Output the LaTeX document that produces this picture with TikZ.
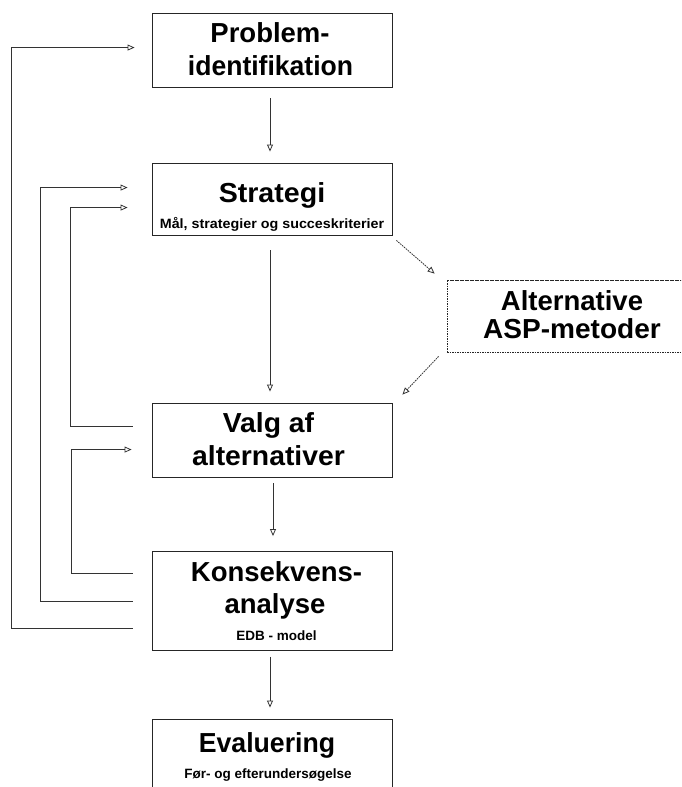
\documentclass[tikz,border=0pt]{standalone}
\usepackage{fontspec}
\usepackage{graphicx}
\setmainfont{Liberation Sans}
\usetikzlibrary{arrows.meta,calc}
\begin{document}
\begin{tikzpicture}[x=1pt,y=-1pt,
  box/.style={draw=black!85,line width=0.9pt,rectangle,inner sep=0pt},
  dbox/.style={draw=black!85,line width=0.8pt,rectangle,inner sep=0pt,dash pattern=on 1.6pt off 0.9pt},
  ttl/.style={font=\fontsize{27.5}{33}\selectfont\bfseries,inner sep=0pt,anchor=base},
  sub/.style={font=\fontsize{13.5}{16}\selectfont\bfseries,inner sep=0pt,anchor=base},
  arr/.style={draw=black!80,line width=0.8pt,-{Triangle[open,length=7pt,width=6pt,line width=0.8pt]}},
  darr/.style={arr,dash pattern=on 1.6pt off 0.9pt}]
\clip (0,0) rectangle (681,787);
\fill[white] (0,0) rectangle (681,787);
% boxes
\node[box,minimum width=240pt,minimum height=74pt] (P) at (272,50) {};
\node[box,minimum width=240pt,minimum height=72pt] (S) at (272,199) {};
\node[box,minimum width=240pt,minimum height=74pt] (V) at (272,440) {};
\node[box,minimum width=240pt,minimum height=99pt] (K) at (272,601) {};
\node[box,minimum width=240pt,minimum height=90pt] (E) at (272,764) {};
\node[dbox,minimum width=250pt,minimum height=72pt] (A) at (572,316) {};
% texts
\node[ttl] (p1) at (270,42) {Problem-};
\node[ttl] (p2) at (270.5,75) {\scalebox{0.965}[1]{identifikation}};
\node[ttl] (s1) at (272,202) {\scalebox{1.04}[1]{Strategi}};
\node[sub] (s2) at (272,228) {\scalebox{1.06}[1]{Mål, strategier og succeskriterier}};
\node[ttl] (v1) at (268.5,432) {\scalebox{1.03}[1]{Valg af}};
\node[ttl] (v2) at (268.5,465) {\scalebox{1.03}[1]{alternativer}};
\node[ttl] (k1) at (276.5,581) {Konsekvens-};
\node[ttl] (k2) at (275,613) {analyse};
\node[sub] (k3) at (276.5,640) {EDB - model};
\node[ttl] (e1) at (267,752) {\scalebox{0.97}[1]{Evaluering}};
\node[sub] (e2) at (268,778) {Før- og efterundersøgelse};
\node[ttl] (a1) at (572,310) {Alternative};
\node[ttl] (a2) at (572,338) {\scalebox{1.02}[1]{ASP-metoder}};
% main flow
\draw[arr] ($(P.south)+(-2,11)$) -- ($(S.north)+(-2,-11)$);
\draw[arr] ($(S.south)+(-2,15)$) -- ($(V.north)+(-2,-11)$);
\draw[arr] ($(V.south)+(1,6)$) -- ($(K.north)+(1,-15)$);
\draw[arr] ($(K.south)+(-2,6)$) -- ($(E.north)+(-2,-11)$);
% dashed via ASP
\draw[darr] ($(S.south east)+(4,5)$) -- ($(A.north west)+(-12,-6)$);
\draw[darr] ($(A.south west)+(-8,4)$) -- ($(V.north east)+(10,-8)$);
% feedback loops
\draw[arr] ($(K.north west)+(-19,77)$) -- ++(-121,0) |- ($(P.north west)+(-17,35)$);
\draw[arr] ($(K.north west)+(-19,50)$) -- ++(-92,0) |- ($(S.north west)+(-24,25)$);
\draw[arr] ($(V.north west)+(-19,24)$) -- ++(-62,0) |- ($(S.north west)+(-24,45)$);
\draw[arr] ($(K.north west)+(-19,22)$) -- ++(-61,0) |- ($(V.north west)+(-20,47)$);
\end{tikzpicture}
\end{document}
